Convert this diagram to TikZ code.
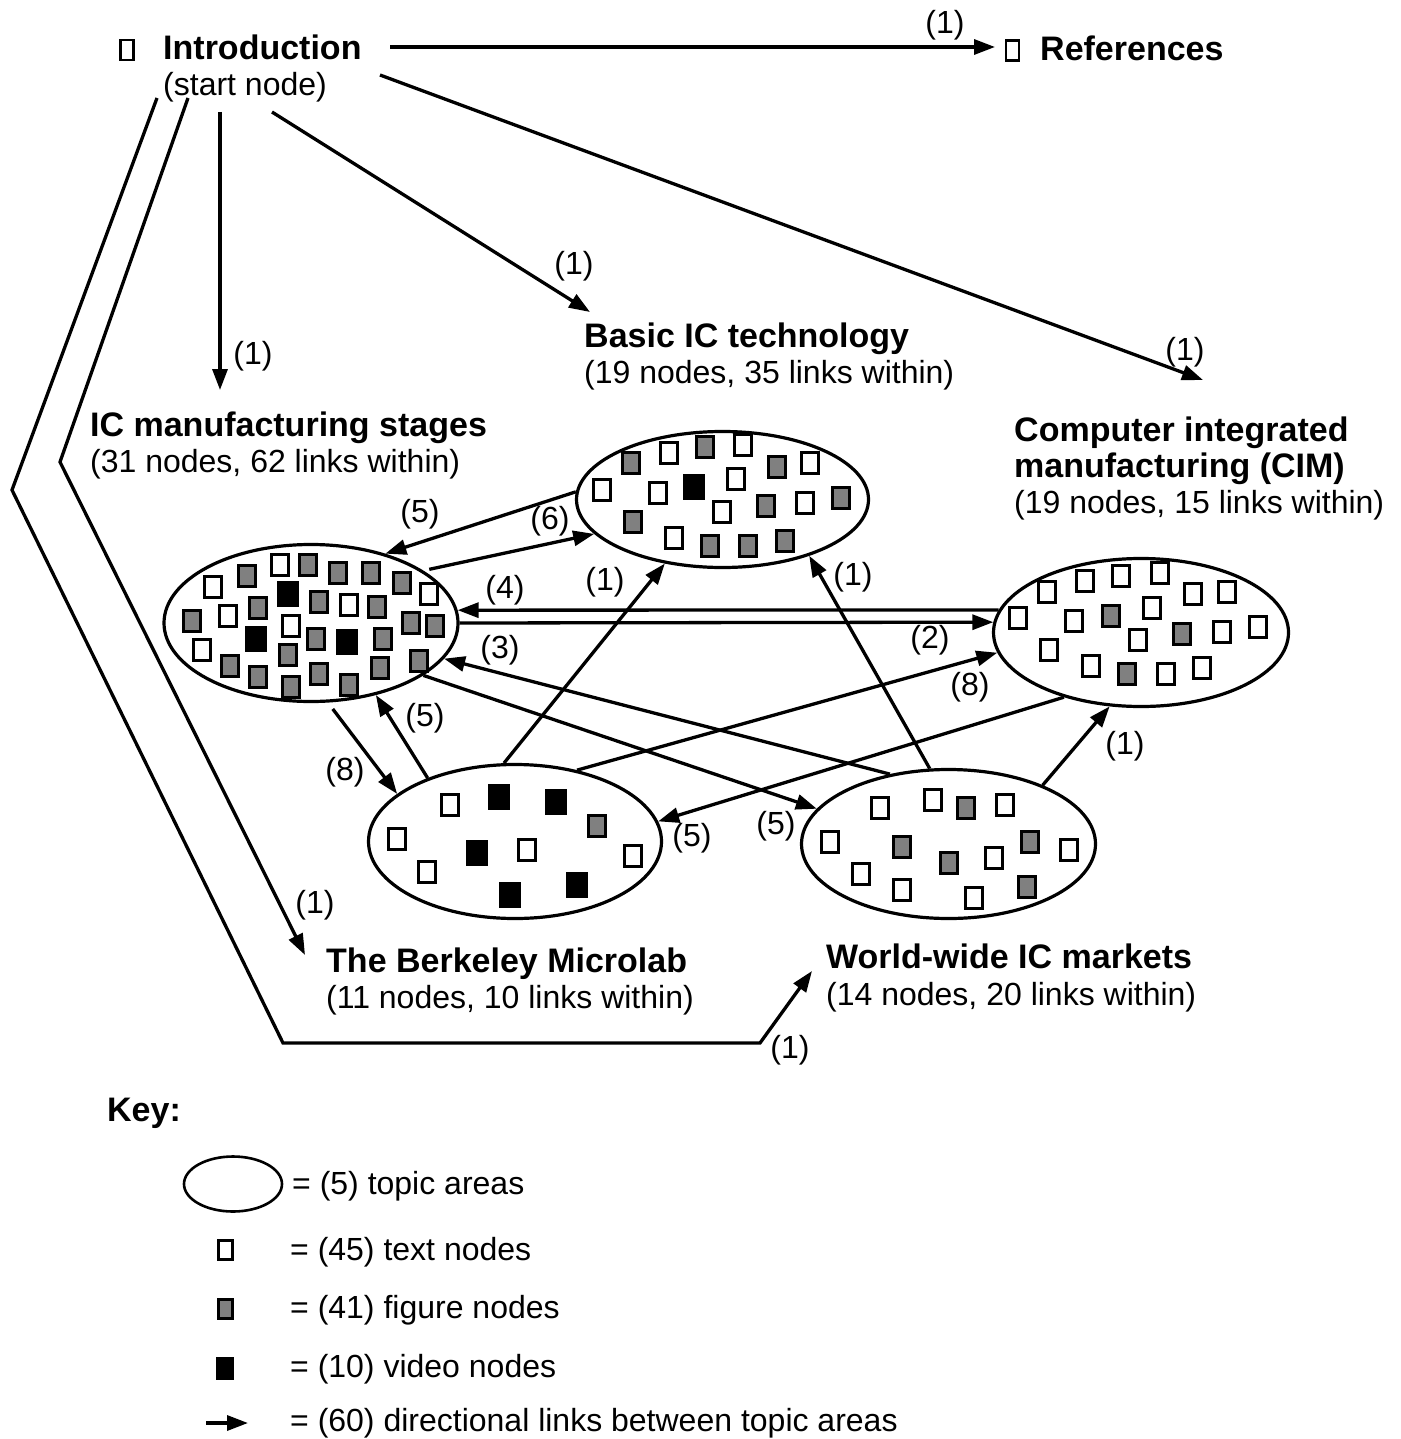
\documentclass[tikz,border=0pt]{standalone}
\usepackage{fontspec}
\setmainfont{Liberation Sans}
\usetikzlibrary{shapes.geometric,arrows.meta}
\definecolor{figgray}{gray}{0.5}
\begin{document}
\begin{tikzpicture}[x=1pt,y=-1pt,
  lnk/.style={line width=3.3pt},
  arr/.style={lnk,-{Triangle[length=21pt,width=15pt]}},
  topic/.style={ellipse,draw,line width=3.2pt,inner sep=0pt},
  wsq/.style={draw,fill=white,line width=3pt,minimum width=17pt,minimum height=21.5pt,inner sep=0pt},
  gsq/.style={wsq,fill=figgray},
  bsq/.style={draw=black,fill=black,line width=1pt,minimum width=21pt,minimum height=25pt,inner sep=0pt},
  nt/.style={font=\fontsize{32}{37}\selectfont,inner sep=0pt,anchor=base west},
  bt/.style={font=\fontsize{34}{37}\selectfont\bfseries,inner sep=0pt,anchor=base west},
  lbl/.style={font=\fontsize{32}{37}\selectfont,inner sep=0pt},
  smallbox/.style={draw,line width=2.2pt,minimum width=13pt,minimum height=20pt,inner sep=0pt},
]
\useasboundingbox (0,0) rectangle (1400,1439);

% ---------- topic areas ----------
\node[topic,minimum width=294pt,minimum height=157pt] (ic) at (311,623) {};
\node[topic,minimum width=292pt,minimum height=136pt] (basic) at (722.5,499.5) {};
\node[topic,minimum width=295pt,minimum height=148pt] (cim) at (1141,632.5) {};
\node[topic,minimum width=293pt,minimum height=154pt] (berk) at (515,841.5) {};
\node[topic,minimum width=294pt,minimum height=149pt] (world) at (948.5,844) {};

% ---------- squares: IC manufacturing ----------
\foreach \x/\y [count=\i] in {280/565,429/594,213/587,349/605,228/616,291/626,202/650}
  \node[wsq] (icw\i) at (\x,\y) {};
\foreach \x/\y [count=\i] in {308/565,338/573,371/573,402/583,247/576,319/602,377/607,258/608,192/621,316/639,383/639,411/623,435/626,230/666,258/677,288/655,319/674,291/687,349/685,380/668,419/661}
  \node[gsq] (icg\i) at (\x,\y) {};
\foreach \x/\y [count=\i] in {288/594,256/639,347/642}
  \node[bsq] (icb\i) at (\x,\y) {};

% ---------- squares: Basic IC ----------
\foreach \x/\y [count=\i] in {669/453,743/445,810/463,602/490,658/493,736/479,805/503,722/512,674/538}
  \node[wsq] (bw\i) at (\x,\y) {};
\foreach \x/\y [count=\i] in {631/463,705/447,777/467,766/506,841/498,633/522,710/546,748/546,785/541}
  \node[gsq] (bg\i) at (\x,\y) {};
\node[bsq] (bb1) at (694,487) {};

% ---------- squares: CIM ----------
\foreach \x/\y [count=\i] in {1047/592,1085/581,1121/576,1160/573,1193/594,1227/592,1018/618,1074/621,1152/608,1138/640,1222/632,1258/627,1049/650,1091/666,1166/674,1202/668}
  \node[wsq] (cw\i) at (\x,\y) {};
\foreach \x/\y [count=\i] in {1111/616,1182/634,1127/674}
  \node[gsq] (cg\i) at (\x,\y) {};

% ---------- squares: Berkeley ----------
\foreach \x/\y [count=\i] in {450/805,397/839,527/850,427/872,633/856}
  \node[wsq] (mw\i) at (\x,\y) {};
\node[gsq] (mg1) at (597,826) {};
\foreach \x/\y [count=\i] in {499/797,556/802,477/853,510/895,577/885}
  \node[bsq] (mb\i) at (\x,\y) {};

% ---------- squares: World-wide ----------
\foreach \x/\y [count=\i] in {880/808,933/800,1005/805,830/842,994/858,1069/850,861/874,902/890,974/898}
  \node[wsq] (ww\i) at (\x,\y) {};
\foreach \x/\y [count=\i] in {966/808,902/847,949/863,1030/842,1027/887}
  \node[gsq] (wg\i) at (\x,\y) {};

% ---------- text labels ----------
\node[smallbox] (introbox) at (127,50) {};
\node[bt] (introt) at (163,60) {Introduction};
\node[nt] (introsub) at (163,96) {(start node)};
\node[smallbox] (refbox) at (1012.5,50.5) {};
\node[bt] (reft) at (1040,61) {References};

\node[bt] (basict) at (584,347) {Basic IC technology};
\node[nt] (basics) at (584,383) {(19 nodes, 35 links within)};
\node[bt] (cimt1) at (1014,441) {Computer integrated};
\node[bt] (cimt2) at (1014,477) {manufacturing (CIM)};
\node[nt] (cims) at (1014,513) {(19 nodes, 15 links within)};
\node[bt] (ict) at (90,436) {IC manufacturing stages};
\node[nt] (ics) at (90,472) {(31 nodes, 62 links within)};
\node[bt] (berkt) at (326,972) {The Berkeley Microlab};
\node[nt] (berks) at (326,1008) {(11 nodes, 10 links within)};
\node[bt] (worldt) at (826,968) {World-wide IC markets};
\node[nt] (worlds) at (826,1005) {(14 nodes, 20 links within)};

% ---------- coordinates for free ends ----------
\coordinate (iRef) at (390,47);
\coordinate (tRef) at (995,47);
\coordinate (iBas) at (272,112);
\coordinate (tBas) at (590,312);
\coordinate (iCim) at (380,75);
\coordinate (tCim) at (1203,380);
\coordinate (iIc) at (220,112);
\coordinate (tIc) at (220,390);
\coordinate (iBer) at (188,98);
\coordinate (kBer) at (60,462);
\coordinate (tBer) at (305,955);
\coordinate (iWor) at (157,98);
\coordinate (kW1) at (12,490);
\coordinate (kW2) at (283,1043);
\coordinate (kW3) at (760,1043);
\coordinate (tWor) at (812,971);

% ---------- links from the start node ----------
\draw[arr] (iRef) -- (tRef);
\draw[arr] (iBas) -- (tBas);
\draw[arr] (iCim) -- (tCim);
\draw[arr] (iIc) -- (tIc);
\draw[arr,line join=miter] (iBer) -- (kBer) -- (tBer);
\draw[arr,line join=miter] (iWor) -- (kW1) -- (kW2) -- (kW3) -- (tWor);

% ---------- links between topic areas ----------
\draw[arr] (basic.177) -- (ic.43);
\draw[arr,shorten <=6pt] (ic.25) -- (basic.195);
\draw[arr] (cim.171) -- (ic.5);
\draw[arr] (ic.0) -- (cim.176);
\draw[arr] (world.130) -- (ic.-15);
\draw[arr] (ic.-25) -- (world.165);
\draw[arr] (berk.98) -- (basic.228);
\draw[arr] (world.104) -- (basic.-33);
\draw[arr] (berk.49) -- (cim.188);
\draw[arr] (cim.220) -- (berk.8);
\draw[arr,shorten <=8pt] (ic.-78) -- (berk.158);
\draw[arr] (berk.144) -- (ic.-48);
\draw[arr] (world.32) -- (cim.-113);

% ---------- link counts ----------
\node[lbl] (c1) at (945,25) {(1)};
\node[lbl] (c2) at (574,266) {(1)};
\node[lbl] (c3) at (1185,352) {(1)};
\node[lbl] (c4) at (253,356) {(1)};
\node[lbl] (c5) at (420,514) {(5)};
\node[lbl] (c6) at (550,521) {(6)};
\node[lbl] (c7) at (505,590) {(4)};
\node[lbl] (c8) at (930,640) {(2)};
\node[lbl] (c9) at (500,650) {(3)};
\node[lbl] (c10) at (605,582) {(1)};
\node[lbl] (c11) at (853,577) {(1)};
\node[lbl] (c12) at (970,687) {(8)};
\node[lbl] (c13) at (425,718) {(5)};
\node[lbl] (c14) at (345,772) {(8)};
\node[lbl] (c15) at (692,838) {(5)};
\node[lbl] (c16) at (776,826) {(5)};
\node[lbl] (c17) at (1125,746) {(1)};
\node[lbl] (c18) at (315,905) {(1)};
\node[lbl] (c19) at (790,1050) {(1)};

% ---------- key ----------
\node[bt] (key) at (107,1121) {Key:};
\node[ellipse,draw,line width=2.6pt,minimum width=98pt,minimum height=55pt,inner sep=0pt] (kell) at (233,1184) {};
\node[nt] (kt1) at (292,1194) {= (5) topic areas};
\node[wsq,minimum width=14pt,minimum height=19pt] (kw) at (225,1250) {};
\node[nt] (kt2) at (290,1260) {= (45) text nodes};
\node[gsq,minimum width=14pt,minimum height=19pt] (kg) at (225,1309) {};
\node[nt] (kt3) at (290,1318) {= (41) figure nodes};
\node[bsq,minimum width=17pt,minimum height=22pt] (kb) at (225,1368) {};
\node[nt] (kt4) at (290,1377) {= (10) video nodes};
\coordinate (ka1) at (206,1423);
\coordinate (ka2) at (248,1423);
\draw[arr] (ka1) -- (ka2);
\node[nt] (kt5) at (290,1431) {= (60) directional links between topic areas};
\end{tikzpicture}
\end{document}
